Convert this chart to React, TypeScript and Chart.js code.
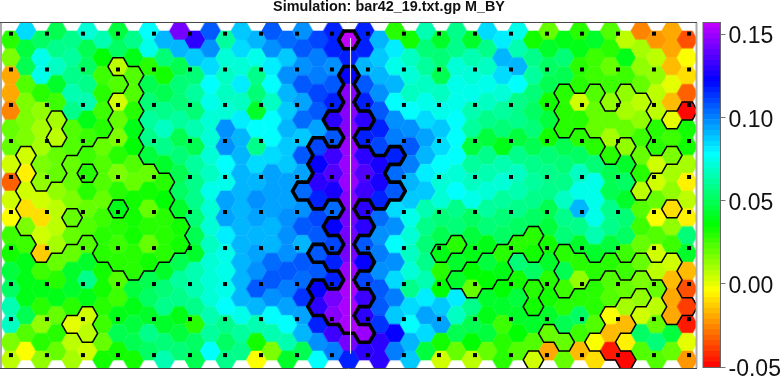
import React, { useEffect, useRef } from "react";
import { Chart, registerables } from "chart.js";

Chart.register(...registerables);

const FONT = '"Liberation Sans", Arial, sans-serif';
const TITLE = "Simulation: bar42_19.txt.gp M_BY";

// Hex cell values (thousandths), one list per map column, top to bottom
const col00 = [28,15,-18,-20,-27,20,18,4,-33,2,-4,25,33,46,51,65,69,15,7];
const col01 = [85,46,48,23,15,15,15,3,-7,3,-11,15,25,40,40,40,48,23,-4];
const col02 = [51,73,74,28,13,9,9,15,13,4,-9,4,-12,25,38,28,13,28,13];
const col03 = [48,59,67,43,25,10,6,18,18,13,6,8,10,18,30,40,20,28,18];
const col04 = [59,62,59,65,59,23,23,20,20,15,18,20,20,43,43,28,1,6,9];
const col05 = [71,48,51,57,65,40,25,25,30,28,20,23,23,43,57,38,2,6,3];
const col06 = [65,35,25,28,25,28,20,23,23,20,25,28,28,33,33,30,25,20,33];
const col07 = [46,51,8,23,2,18,15,28,15,30,40,30,25,30,23,25,40,48,33];
const col08 = [57,40,23,23,28,40,35,23,20,33,33,33,30,30,46,40,46,48,33];
const col09 = [78,75,28,48,54,62,59,46,20,33,18,28,18,33,48,51,43,57,51];
const col10 = [89,54,33,48,57,67,59,43,30,37,28,30,30,43,54,57,43,54,65];
const col11 = [144,89,48,54,54,60,48,54,48,51,43,33,33,48,62,59,40,46,54];
const col12 = [130,86,54,62,54,65,48,62,59,59,54,48,43,65,65,59,28,51,48];
const col13 = [106,97,83,78,73,70,70,70,67,73,71,70,67,70,70,71,65,62,78];
const col14 = [62,70,67,67,70,97,97,79,74,94,94,80,74,74,74,78,59,51,59];
const col15 = [86,83,70,80,67,82,92,89,89,89,89,90,89,90,90,90,73,62,59];
const col16 = [89,74,57,54,43,78,59,85,92,97,94,89,94,97,108,89,65,33,-4];
const col17 = [108,96,80,78,67,78,78,85,94,94,94,92,89,103,108,97,78,65,15];
const col18 = [103,86,96,89,86,89,87,87,94,94,96,97,97,106,100,94,78,65,43];
const col19 = [97,108,97,106,94,102,87,106,93,103,97,106,91,106,103,114,94,89,48];
const col20 = [111,100,100,111,108,94,111,124,128,117,111,106,108,108,122,128,117,97,78];
const col21 = [117,116,97,106,117,128,106,133,136,125,103,122,111,117,116,144,146,133,100];
const col22 = [156,117,124,146,147,147,149,149,150,147,144,144,144,150,151,153,151,142,117];
const col23 = [117,117,89,108,117,130,116,130,136,133,128,128,106,122,111,133,130,150,130];
const col24 = [89,87,90,97,108,117,111,125,125,116,103,97,100,97,106,108,114,130,130];
const col25 = [30,80,73,90,78,97,100,117,103,106,83,97,78,96,83,100,86,122,100];
const col26 = [33,67,71,67,78,96,108,100,92,87,73,70,67,70,59,83,78,92,86];
const col27 = [65,54,62,67,73,85,94,92,80,86,65,59,54,59,65,80,93,83,46];
const col28 = [43,54,48,67,73,87,85,79,70,70,54,48,40,30,35,87,94,33,2];
const col29 = [57,59,70,74,73,78,78,78,70,78,59,54,30,43,43,80,67,48,20];
const col30 = [43,65,70,73,65,62,46,62,67,74,51,46,40,37,20,57,48,37,6];
const col31 = [85,57,67,76,67,59,46,57,65,70,62,54,40,46,37,43,40,46,18];
const col32 = [80,92,85,70,62,54,38,65,70,62,54,52,30,40,37,43,25,28,28];
const col33 = [74,65,89,78,59,59,46,57,67,65,59,51,28,54,33,46,43,36,23];
const col34 = [33,57,62,54,51,54,48,59,62,57,51,28,33,51,30,33,43,23,4];
const col35 = [20,43,51,48,33,46,33,54,59,59,48,46,33,43,28,33,43,20,-20];
const col36 = [38,54,48,30,30,30,48,54,59,67,57,54,28,48,25,30,48,20,18];
const col37 = [28,40,28,28,4,28,30,51,67,73,89,59,43,28,13,30,51,25,-15];
const col38 = [43,25,25,23,18,20,28,54,73,73,73,65,43,28,28,30,23,-2,-9];
const col39 = [23,28,20,25,13,20,10,30,48,48,57,57,46,28,23,23,-4,-15,-44];
const col40 = [8,40,25,13,10,20,13,43,51,43,54,51,25,25,20,10,-15,-7,-50];
const col41 = [-27,10,13,20,8,13,25,20,28,8,23,25,20,20,15,13,3,51,23];
const col42 = [-24,8,13,8,8,30,30,4,4,18,-4,23,3,7,18,8,20,54,23];
const col43 = [-21,-18,-16,1,-15,1,25,15,10,13,-9,13,25,2,-15,-18,-18,46,20];
const col44 = [-36,-4,-9,-33,-50,33,33,9,-7,6,-6,54,43,-15,-36,-38,-47,0,-24];
const hexColumns = [col00,col01,col02,col03,col04,col05,col06,col07,col08,col09,col10,col11,col12,col13,col14,col15,col16,col17,col18,col19,col20,col21,col22,col23,col24,col25,col26,col27,col28,col29,col30,col31,col32,col33,col34,col35,col36,col37,col38,col39,col40,col41,col42,col43,col44];

// Cells inside the thin and thick contour regions: [column, rows in that column]
const thinCells: [number, number[]][] = [
  [1,[7,8,9,10,11]],[2,[9,10,11,12]],[3,[5,6,9,10,11,12]],[4,[7,8,9,11,16]],
  [5,[7,9,10,11,16,17]],[6,[6,7,8,9,10,11,12]],[7,[2,4,5,6,7,8,9,11,12,13]],
  [8,[2,3,4,5,6,7,8,9,10,11,12,13]],[9,[8,9,10,11,12,13]],[10,[8,9,10,11,12]],[11,[11,12]],
  [28,[12]],[29,[12,14]],[30,[13,14]],[31,[13,14]],[32,[12,13]],[33,[12]],[34,[11,12,14,15,18]],
  [35,[17]],[36,[3,4,5,12,13,14,17]],[37,[4,5,13,14]],[38,[3,4,5,13,17]],[39,[5,6,7,13,16,17,18]],
  [40,[3,4,5,13,15,16,18]],[41,[4,5,6,7,8,9,13,15]],[42,[7,13]],[43,[5,7,10,13,14,15,16]],[44,[4,15]],
];
const thickCells: [number, number[]][] = [
  [19,[9]],[20,[6,7,8,9,12,14,15]],[21,[5,7,8,9,11,13,15,16]],
  [22,[0,2,3,4,5,6,7,8,9,10,11,12,13,14,15,16]],[23,[5,7,8,9,11,13,15,17]],[24,[7,8,9]],[25,[7,9]],
];

// Small black marker grid, in map column and half-row units
const markerColumns = [0.03,2.37,4.71,6.99,9.33,11.67,13.95,16.29,18.63,20.9,23.24,25.58,27.86,30.2,32.54,34.88,37.16,39.5,41.84,44.12];
const markerRows = [0.3,4.33,8.32,12.37,16.42,20.36,24.41,28.46,32.4,36.45];

const centerColumn = 22.107;
const centerRows = [0.8, 36.3];

const barTicks = [-0.05, 0, 0.05, 0.1, 0.15];
const V_MIN = -0.0503;
const V_MAX = 0.157;
const LEVELS = 64;
const anchors: [number, number, number, number][] = [
  [-0.05,255,0,0],[-0.004,255,255,0],[0.035,0,255,0],[0.078,0,255,255],[0.122,0,0,255],[0.157,200,0,255],
];

function rampColor(v: number) {
  let i = 0;
  while (i < anchors.length - 2 && v > anchors[i + 1][0]) i++;
  const a = anchors[i], b = anchors[i + 1];
  const t = Math.max(0, Math.min(1, (v - a[0]) / (b[0] - a[0])));
  const c = [1, 2, 3].map((j) => Math.round(a[j] + (b[j] - a[j]) * t));
  return `rgb(${c[0]},${c[1]},${c[2]})`;
}
function levelOf(v: number) {
  return Math.max(0, Math.min(LEVELS - 1, Math.floor(((v - V_MIN) / (V_MAX - V_MIN)) * LEVELS)));
}
function levelMid(l: number) {
  return V_MIN + ((l + 0.5) / LEVELS) * (V_MAX - V_MIN);
}

const sprites = new Map<number, HTMLCanvasElement>();
function sprite(level: number) {
  let c = sprites.get(level);
  if (c) return c;
  c = document.createElement("canvas");
  c.width = 24;
  c.height = 22;
  const g = c.getContext("2d")!;
  const R = 10.55;
  g.fillStyle = rampColor(levelMid(level));
  g.beginPath();
  for (let a = 0; a < 6; a++) {
    const t = (a * Math.PI) / 3;
    g.lineTo(12 + R * Math.cos(t), 11 + R * Math.sin(t));
  }
  g.closePath();
  g.fill();
  sprites.set(level, c);
  return c;
}

const rowOf = (col: number, k: number) => 2 * k + (col % 2 === 0 ? 1 : 0);

function contourEdges(cells: [number, number[]][]) {
  const keys = new Set<string>();
  cells.forEach(([c, ks]) => ks.forEach((k) => keys.add(c + "," + rowOf(c, k))));
  const pts: { x: number; y: number }[] = [];
  const t = 1 / 3;
  cells.forEach(([c, ks]) =>
    ks.forEach((k) => {
      const r = rowOf(c, k);
      const v = {
        R: [c + 2 * t, r], UR: [c + t, r - 1], UL: [c - t, r - 1],
        L: [c - 2 * t, r], LL: [c - t, r + 1], LR: [c + t, r + 1],
      };
      const sides: [number, number, number[], number[]][] = [
        [c, r - 2, v.UL, v.UR], [c + 1, r - 1, v.UR, v.R], [c + 1, r + 1, v.R, v.LR],
        [c, r + 2, v.LR, v.LL], [c - 1, r + 1, v.LL, v.L], [c - 1, r - 1, v.L, v.UL],
      ];
      sides.forEach(([nc, nr, a, b]) => {
        if (!keys.has(nc + "," + nr)) {
          pts.push({ x: a[0], y: a[1] }, { x: b[0], y: b[1] }, { x: NaN, y: NaN });
        }
      });
    })
  );
  return pts;
}

const framePlugin = {
  id: "frame",
  afterDatasetsDraw(chart: any) {
    const { ctx, chartArea: a } = chart;
    ctx.save();
    ctx.lineWidth = 1;
    ctx.strokeStyle = "#444";
    ctx.beginPath();
    ctx.moveTo(a.left - 2, a.top - 0.5);
    ctx.lineTo(a.right + 1, a.top - 0.5);
    ctx.moveTo(a.left - 2, a.bottom + 0.5);
    ctx.lineTo(a.right + 1, a.bottom + 0.5);
    ctx.stroke();
    ctx.lineWidth = 2;
    ctx.strokeStyle = "#aaa";
    ctx.beginPath();
    ctx.moveTo(a.left - 1, a.top);
    ctx.lineTo(a.left - 1, a.bottom);
    ctx.moveTo(a.right + 0.5, a.top);
    ctx.lineTo(a.right + 0.5, a.bottom);
    ctx.stroke();
    ctx.restore();
  },
};

const barFrame = {
  id: "barFrame",
  afterDatasetsDraw(chart: any) {
    const { ctx, chartArea: a } = chart;
    ctx.save();
    ctx.lineWidth = 1;
    ctx.strokeStyle = "#666";
    ctx.strokeRect(a.left, a.top, a.right - a.left, a.bottom - a.top);
    ctx.restore();
  },
};

export default function App() {
  const mapRef = useRef<HTMLCanvasElement>(null);
  const barRef = useRef<HTMLCanvasElement>(null);

  useEffect(() => {
    const hexData: any[] = [];
    hexColumns.forEach((vals, c) =>
      vals.forEach((v, k) => hexData.push({ x: c, y: rowOf(c, k), v: v / 1000 }))
    );
    const markers: { x: number; y: number }[] = [];
    markerRows.forEach((y) => markerColumns.forEach((x) => markers.push({ x, y })));

    const contourBase = {
      type: "scatter", showLine: true, pointRadius: 0, borderColor: "#000",
      spanGaps: false, borderCapStyle: "round", borderJoinStyle: "round", fill: false,
    };

    const map = new Chart(mapRef.current!, {
      type: "scatter",
      data: {
        datasets: [
          { label: "markers", data: markers, pointStyle: "rect", pointRadius: 2.83, pointBorderWidth: 0, pointBackgroundColor: "#000", order: 0 },
          { label: "center", data: centerRows.map((y) => ({ x: centerColumn, y })), showLine: true, pointRadius: 0, borderColor: "#e6e4f0", borderWidth: 1.1, order: 1 },
          { ...contourBase, label: "thick", data: contourEdges(thickCells), borderWidth: 3.6, order: 2 },
          { ...contourBase, label: "thin", data: contourEdges(thinCells), borderWidth: 1.5, order: 3 },
          {
            label: "hex", data: hexData, order: 4, pointRadius: 11, pointBorderWidth: 0,
            pointStyle: (ctx: any) => sprite(levelOf(ctx.raw ? ctx.raw.v : 0)),
          },
        ] as any,
      },
      options: {
        animation: false,
        responsive: false,
        events: [],
        layout: { autoPadding: false, padding: { left: 2, right: 7, top: 0, bottom: 8 } },
        plugins: {
          legend: { display: false },
          tooltip: { enabled: false },
          title: {
            display: true, text: TITLE, color: "#111",
            font: { family: FONT, size: 14.4, weight: "bold" },
            padding: { top: -1.5, bottom: 7.2 },
          },
        },
        scales: {
          x: { type: "linear", display: false, min: -0.553, max: 44.57 },
          y: { type: "linear", display: false, min: -0.9, max: 37.9, reverse: true },
          spare: {
            type: "linear", axis: "y", position: "right", display: true,
            ticks: { display: false }, grid: { display: false }, border: { display: false },
            afterFit: (s: any) => { s.width = 80; },
          },
        },
      } as any,
      plugins: [framePlugin],
    } as any);

    const bands = Array.from({ length: LEVELS }, (_, l) => ({
      label: "band" + l,
      data: [[V_MIN + (l / LEVELS) * (V_MAX - V_MIN), V_MIN + ((l + 1) / LEVELS) * (V_MAX - V_MIN)]],
      backgroundColor: rampColor(levelMid(l)),
      borderWidth: 0,
      barPercentage: 1,
      categoryPercentage: 1,
      grouped: false,
    }));

    const bar = new Chart(barRef.current!, {
      type: "bar",
      data: { labels: [""], datasets: bands as any },
      options: {
        animation: false,
        responsive: false,
        events: [],
        layout: { autoPadding: false, padding: { left: 13, right: 0, top: 22.5, bottom: 8.5 } },
        plugins: { legend: { display: false }, tooltip: { enabled: false }, title: { display: false } },
        scales: {
          x: { display: false },
          y: {
            type: "linear", position: "right", min: V_MIN, max: V_MAX,
            afterBuildTicks: (s: any) => { s.ticks = barTicks.map((value) => ({ value })); },
            afterFit: (s: any) => { s.width = 62.5; s.paddingTop = 0; s.paddingBottom = 0; },
            border: { display: false },
            grid: { drawOnChartArea: false, drawTicks: true, tickLength: 5, color: "#777", tickWidth: 1 },
            ticks: {
              padding: 3, labelOffset: 3, color: "#111", autoSkip: false, maxRotation: 0,
              font: { family: FONT, size: 23 },
              callback: (v: any) => Number(v).toFixed(2),
            },
          },
        },
      } as any,
      plugins: [barFrame],
    } as any);

    return () => {
      map.destroy();
      bar.destroy();
    };
  }, []);

  return (
    <div style={{ position: "absolute", left: 0, top: 0, width: 783, height: 376, background: "#fff", overflow: "hidden" }}>
      <canvas ref={mapRef} width={783} height={376} style={{ position: "absolute", left: 0, top: 0 }} />
      <canvas ref={barRef} width={93} height={376} style={{ position: "absolute", left: 690, top: 0 }} />
    </div>
  );
}
